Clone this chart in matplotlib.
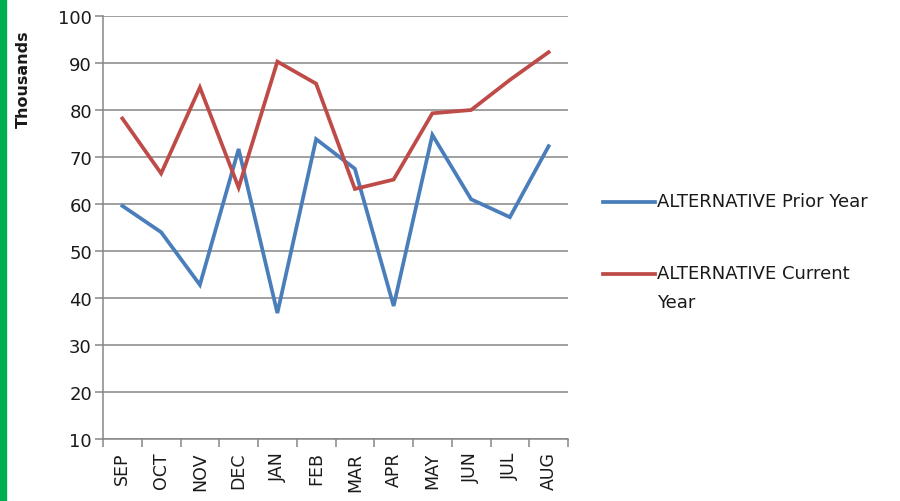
import numpy as np
import matplotlib
matplotlib.use('Agg')
import matplotlib.pyplot as plt
from matplotlib.lines import Line2D
import matplotlib.patches as mpatches

months = ['SEP', 'OCT', 'NOV', 'DEC', 'JAN', 'FEB',
          'MAR', 'APR', 'MAY', 'JUN', 'JUL', 'AUG']

# values in thousands
prior_year = [59.6, 54.0, 42.8, 71.7, 36.8, 73.8,
              67.5, 38.3, 74.7, 61.0, 57.2, 72.3]
current_year = [78.2, 66.5, 84.8, 63.5, 90.3, 85.6,
                63.2, 65.2, 79.3, 80.0, 86.4, 92.3]

labels = ['ALTERNATIVE Prior Year', 'ALTERNATIVE Current\nYear']
colors = ['#4a7ebb', '#be4b48']
grid_color = '#868686'
text_color = '#1a1a1a'

fig = plt.figure(figsize=(9, 5.02), dpi=100)
ax = fig.add_axes([103 / 900, 62 / 502, 465 / 900, 423 / 502])

x = np.arange(len(months))
ax.plot(x, prior_year, color=colors[0], linewidth=2.7, solid_joinstyle='miter')
ax.plot(x, current_year, color=colors[1], linewidth=2.7, solid_joinstyle='miter')

ax.set_xlim(-0.5, len(months) - 0.5)
ax.set_ylim(10, 100)
ax.set_yticks(np.arange(10, 101, 10))
ax.yaxis.grid(True, color=grid_color, linewidth=1.1)
ax.set_axisbelow(True)

# category boundaries as major ticks, labels on minor ticks at centres
ax.set_xticks(np.arange(-0.5, len(months), 1))
ax.set_xticklabels([])
ax.set_xticks(x, minor=True)
ax.set_xticklabels(months, minor=True, rotation=90, fontsize=12.5, color=text_color)
ax.tick_params(axis='x', which='major', length=6, width=1.1, color=grid_color)
ax.tick_params(axis='x', which='minor', length=0, pad=9)
ax.tick_params(axis='y', length=6, width=1.1, color=grid_color,
               labelsize=13, labelcolor=text_color, pad=2)

for side in ['top', 'right']:
    ax.spines[side].set_visible(False)
for side in ['left', 'bottom']:
    ax.spines[side].set_color(grid_color)
    ax.spines[side].set_linewidth(1.1)

fig.text(23 / 900, 1 - 79 / 502, 'Thousands', rotation=90, fontsize=11.5,
         fontweight='bold', ha='center', va='center', color=text_color)

# legend drawn by hand so the handle sits on the first text line
legend_y = [203, 275]
for lab, col, ly in zip(labels, colors, legend_y):
    fig.add_artist(Line2D([603 / 900, 655 / 900], [1 - ly / 502, 1 - ly / 502],
                          color=col, linewidth=2.7, transform=fig.transFigure))
    fig.text(657 / 900, 1 - (ly - 10) / 502, lab, fontsize=13, color=text_color,
             ha='left', va='top', linespacing=1.8)

# green strip at the left edge
fig.add_artist(mpatches.Rectangle((0, 0), 6 / 900, 1, color='#00b050',
                                  transform=fig.transFigure))

fig.savefig('out.png', dpi=100)
